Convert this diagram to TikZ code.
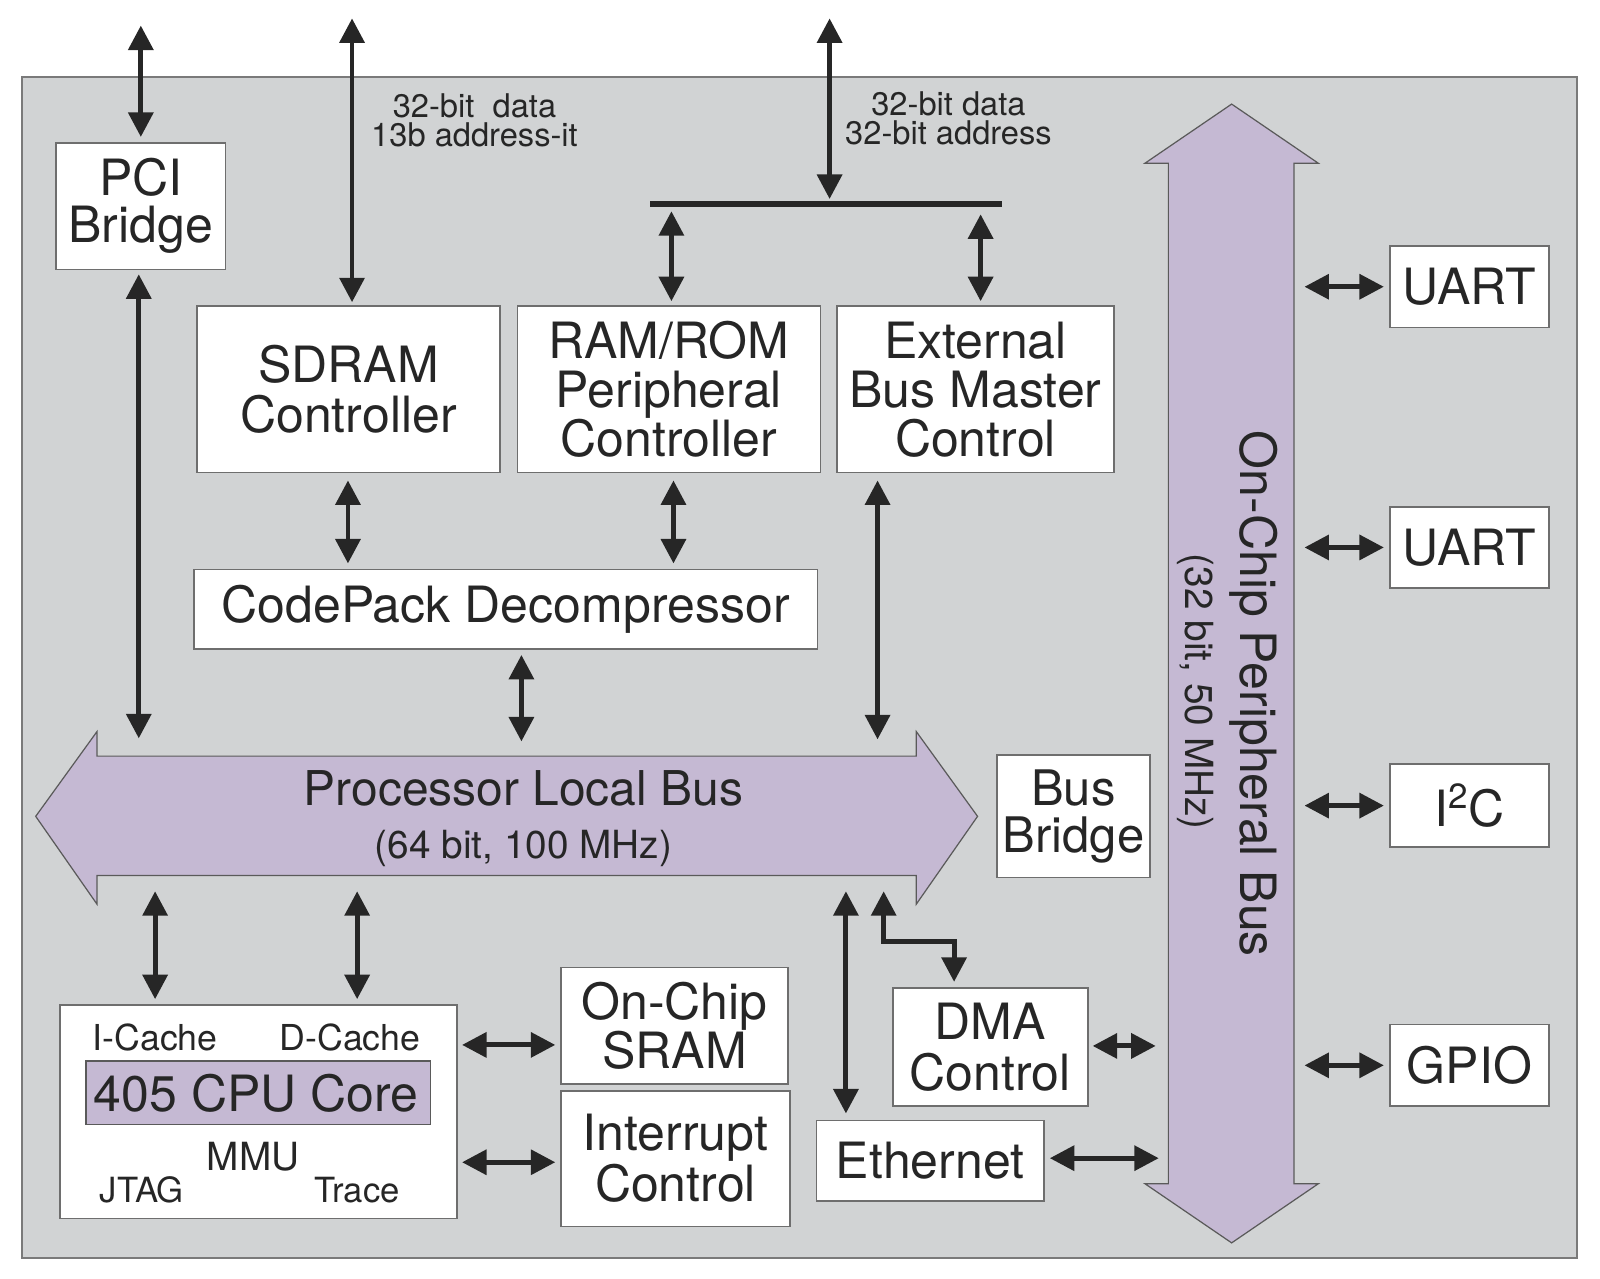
\documentclass[tikz,border=0pt]{standalone}
\usepackage{fontspec}
\setmainfont{TeX Gyre Heros}
\usetikzlibrary{arrows.meta}
\definecolor{bgc}{HTML}{D1D3D4}
\definecolor{bgline}{HTML}{7A7A7A}
\definecolor{purp}{HTML}{C5B9D3}
\definecolor{purpline}{HTML}{5A5A5A}
\definecolor{boxline}{HTML}{6E6E6E}
\definecolor{ink}{HTML}{262626}
\newcommand\fsz[2]{\fontsize{#1}{#2}\selectfont}
\begin{document}
\begin{tikzpicture}[x=0.5pt,y=-0.5pt,
  box/.style={draw=boxline, fill=white, line width=0.8pt, inner sep=0pt, align=center, text=ink, font=\fsz{24.5}{24.5}},
  arr/.style={draw=ink, line width=2.4pt, {Triangle[length=12pt,width=12pt]}-{Triangle[length=12pt,width=12pt]}},
  lbl/.style={text=ink, inner sep=0pt, align=center},
  bus/.style={fill=purp, draw=purpline, line width=0.6pt},
]
\useasboundingbox (0,0) rectangle (1568,1253);
% chip background
\filldraw[fill=bgc, draw=bgline, line width=1pt] (22,75) rectangle (1545,1233);

% Processor Local Bus
\draw[bus] (35,800) -- (95,717) -- (95,741) -- (898,741) -- (898,717) -- (958,800)
  -- (898,886) -- (898,858) -- (95,858) -- (95,886) -- cycle;
\node[inner sep=0pt, minimum width=401.5pt, minimum height=58.5pt] (plb) at (496.5,799.5) {};
\node[lbl, anchor=base, font=\fsz{23.5}{24}] (plbt) at (513,789) {Processor Local Bus};
\node[lbl, anchor=base, font=\fsz{19}{20}] (plbs) at (513,841) {(64 bit, 100 MHz)};

% On-Chip Peripheral Bus
\draw[bus] (1207,102) -- (1292,160) -- (1268,160) -- (1268,1160) -- (1292,1160) -- (1207,1218)
  -- (1122,1160) -- (1145,1160) -- (1145,160) -- (1122,160) -- cycle;
\node[inner sep=0pt, minimum width=61.5pt, minimum height=500pt] (opb) at (1206.5,660) {};
\node[lbl, anchor=base, rotate=-90, font=\fsz{24.5}{25}] (opbt) at (1216,680) {On-Chip Peripheral Bus};
\node[lbl, anchor=base, rotate=-90, font=\fsz{19}{20}] (opbs) at (1162,678) {(32 bit, 50 MHz)};

% boxes
\node[box, minimum width=83pt, minimum height=62pt, font=\fsz{24.5}{23}] (pci) at (138,202) {PCI\\Bridge};
\node[box, minimum width=148.5pt, minimum height=81.5pt] (sdram) at (341.5,381.5) {SDRAM\\Controller};
\node[box, minimum width=148.5pt, minimum height=81.5pt, font=\fsz{24.5}{24}] (rom) at (655.5,381.5) {RAM/ROM\\Peripheral\\Controller};
\node[box, minimum width=136pt, minimum height=81.5pt, font=\fsz{24.5}{24}] (ext) at (956,381.5) {External\\Bus Master\\Control};
\node[box, minimum width=305.5pt, minimum height=39pt] (codepack) at (495.5,597) {CodePack Decompressor};
\node[box, minimum width=75pt, minimum height=60pt, font=\fsz{24}{23}] (bbridge) at (1052,800) {Bus\\Bridge};
\node[box, minimum width=78pt, minimum height=40pt] (uarta) at (1440,281) {UART};
\node[box, minimum width=78pt, minimum height=39.5pt] (uartb) at (1440,536.5) {UART};
\node[box, minimum width=78pt, minimum height=40.5pt] (iic) at (1440,789.5) {I\textsuperscript{2}C};
\node[box, minimum width=78pt, minimum height=40pt] (gpio) at (1440,1044) {GPIO};
\node[box, minimum width=111pt, minimum height=57pt, font=\fsz{24.5}{24}] (sram) at (661,1005) {On-Chip\\SRAM};
\node[box, minimum width=112pt, minimum height=66.5pt, font=\fsz{24.5}{25}] (intr) at (662,1135.5) {Interrupt\\Control};
\node[box, minimum width=111.5pt, minimum height=39.5pt] (eth) at (911.5,1137.5) {Ethernet};
\node[box, minimum width=95.5pt, minimum height=58pt, font=\fsz{24.5}{25}] (dma) at (970.5,1026) {DMA\\Control};

% CPU block
\node[box, minimum width=194.5pt, minimum height=104.5pt] (cpu) at (253.5,1089.5) {};
\node[box, fill=purp, draw=purpline, minimum width=169pt, minimum height=31pt] (core) at (253,1071) {};
\node[lbl, anchor=base, font=\fsz{24.5}{25}] (coret) at (251,1089) {405 CPU Core};
\node[lbl, anchor=base, font=\fsz{17.5}{18}] (icache) at (152,1029) {I-Cache};
\node[lbl, anchor=base, font=\fsz{17.5}{18}] (dcache) at (343,1029) {D-Cache};
\node[lbl, anchor=base, font=\fsz{19}{19}] (mmu) at (248,1147) {MMU};
\node[lbl, anchor=base, font=\fsz{17}{18}] (jtag) at (139,1178) {JTAG};
\node[lbl, anchor=base, font=\fsz{17}{18}] (trace) at (350,1178) {Trace};

% external labels
\node[lbl, font=\fsz{16}{14.5}] (lbla) at (465,118) {32-bit\ \ data\\13b address-it};
\node[lbl, font=\fsz{16}{14.5}] (lblb) at (929.5,116) {32-bit data\\32-bit address};

% free ends and bus line
\coordinate (pciext) at (138,25);
\coordinate (sdext) at (345,18);
\coordinate (busext) at (813,18);
\coordinate (busL) at (637,200);
\coordinate (busR) at (982,200);
\coordinate (dmaA) at (866,923);
\coordinate (dmaB) at (935,923);
\draw[ink, line width=2.6pt] (busL) -- (busR);

% connectors
\draw[arr, shorten >=2.5pt] (pciext) -- (pci.north);
\draw[arr, shorten <=2pt, shorten >=8.5pt] (136,0 |- pci.south) -- (136,0 |- plb.north);
\draw[arr, shorten >=1.5pt] (sdext) -- (345,0 |- sdram.north);
\draw[arr, shorten >=2.5pt] (busext) -- (813,0 |- busL);
\draw[arr, shorten <=3.5pt, shorten >=2pt] (658,0 |- busL) -- (658,0 |- rom.north);
\draw[arr, shorten <=5pt, shorten >=2pt] (961,0 |- busL) -- (961,0 |- ext.north);
\draw[arr, shorten <=3.5pt, shorten >=2.5pt] (341,0 |- sdram.south) -- (341,0 |- codepack.north);
\draw[arr, shorten <=3.5pt, shorten >=2.5pt] (660,0 |- rom.south) -- (660,0 |- codepack.north);
\draw[arr, shorten <=2.5pt, shorten >=7pt] (511,0 |- codepack.south) -- (511,0 |- plb.north);
\draw[arr, shorten <=3.5pt, shorten >=8pt] (860,0 |- ext.south) -- (860,0 |- plb.north);
\draw[arr, shorten <=7.5pt, shorten >=2.5pt] (152,0 |- plb.south) -- (152,0 |- cpu.north);
\draw[arr, shorten <=7.5pt, shorten >=2.5pt] (350,0 |- plb.south) -- (350,0 |- cpu.north);
\draw[arr, shorten <=7.5pt, shorten >=3pt] (829,0 |- plb.south) -- (829,0 |- eth.north);
\draw[arr, shorten <=7.5pt, shorten >=2.5pt] (866,0 |- plb.south) -- (dmaA) -- (dmaB) -- (935,0 |- dma.north);
\draw[arr, shorten <=2pt, shorten >=2.5pt] (0,1024 -| cpu.east) -- (0,1024 -| sram.west);
\draw[arr, shorten <=2pt, shorten >=2.5pt] (0,1139 -| cpu.east) -- (0,1139 -| intr.west);
\draw[arr, shorten <=2pt, shorten >=6pt] (0,1025 -| dma.east) -- (0,1025 -| opb.west);
\draw[arr, shorten <=2.5pt, shorten >=4.5pt] (0,1135 -| eth.east) -- (0,1135 -| opb.west);
\draw[arr, shorten <=5pt, shorten >=2.5pt] (uarta.west -| opb.east) -- (uarta.west);
\draw[arr, shorten <=5pt, shorten >=2.5pt] (uartb.west -| opb.east) -- (uartb.west);
\draw[arr, shorten <=5pt, shorten >=2.5pt] (iic.west -| opb.east) -- (iic.west);
\draw[arr, shorten <=5pt, shorten >=2.5pt] (gpio.west -| opb.east) -- (gpio.west);
\end{tikzpicture}
\end{document}
